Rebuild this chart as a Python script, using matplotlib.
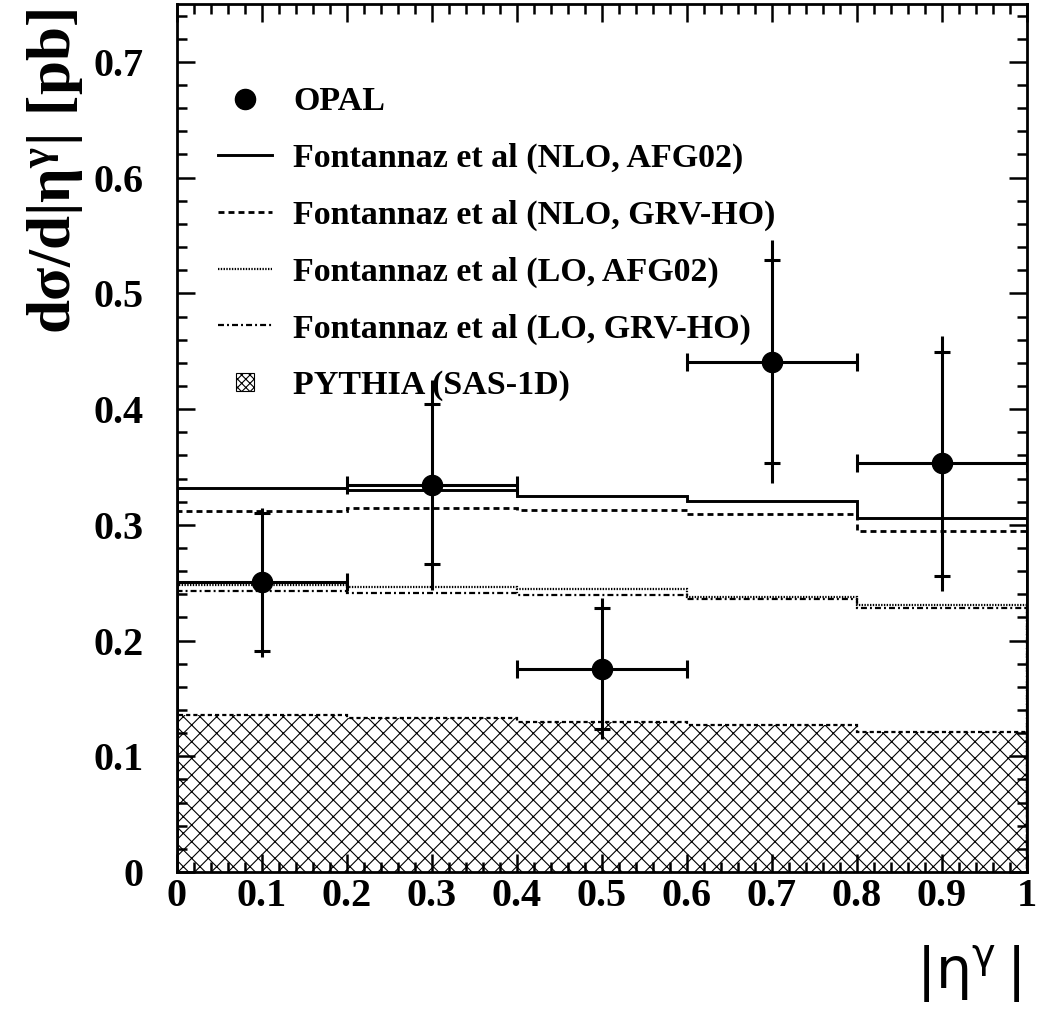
import matplotlib
matplotlib.use('Agg')
import matplotlib.pyplot as plt
import numpy as np
from matplotlib.lines import Line2D
from matplotlib.patches import Rectangle, Patch
from matplotlib.legend_handler import HandlerPatch
from matplotlib.ticker import AutoMinorLocator

plt.rcParams['font.family'] = ['Liberation Serif', 'DejaVu Serif']
plt.rcParams['mathtext.fontset'] = 'custom'
plt.rcParams['mathtext.rm'] = 'Liberation Serif:bold'
plt.rcParams['mathtext.it'] = 'Liberation Serif:bold'
plt.rcParams['mathtext.bf'] = 'Liberation Serif:bold'
plt.rcParams['lines.scale_dashes'] = False
plt.rcParams['hatch.linewidth'] = 0.8

# ---------------- data ----------------
bin_edges = [0.0, 0.2, 0.4, 0.6, 0.8, 1.0]
eta_centers = [0.1, 0.3, 0.5, 0.7, 0.9]
eta_halfwidth = [0.1, 0.1, 0.1, 0.1, 0.1]

opal_xsec = [0.251, 0.3345, 0.1755, 0.441, 0.3535]
opal_stat_lo = [0.191, 0.266, 0.1236, 0.3535, 0.256]
opal_stat_hi = [0.310, 0.404, 0.228, 0.529, 0.449]
opal_tot_lo = [0.186, 0.244, 0.115, 0.336, 0.243]
opal_tot_hi = [0.3146, 0.425, 0.237, 0.546, 0.463]

nlo_afg02 = [0.332, 0.330, 0.325, 0.3207, 0.306]
nlo_grvho = [0.312, 0.3146, 0.313, 0.3094, 0.2947]
lo_afg02 = [0.248, 0.2466, 0.2444, 0.2377, 0.2308]
lo_grvho = [0.243, 0.241, 0.2394, 0.236, 0.228]
pythia_sas1d = [0.1357, 0.133, 0.1297, 0.127, 0.121]

x_ticks = [0, 0.1, 0.2, 0.3, 0.4, 0.5, 0.6, 0.7, 0.8, 0.9, 1.0]
x_tick_labels = ['0', '0.1', '0.2', '0.3', '0.4', '0.5', '0.6', '0.7', '0.8', '0.9', '1']
y_ticks = [0, 0.1, 0.2, 0.3, 0.4, 0.5, 0.6, 0.7]
y_tick_labels = ['0', '0.1', '0.2', '0.3', '0.4', '0.5', '0.6', '0.7']

labels = ['OPAL',
          'Fontannaz et al (NLO, AFG02)',
          'Fontannaz et al (NLO, GRV-HO)',
          'Fontannaz et al (LO, AFG02)',
          'Fontannaz et al (LO, GRV-HO)',
          'PYTHIA (SAS-1D)']

# ---------------- styles ----------------
dash_nlo_grv = (0, (4.3, 2.9))
dash_lo_afg = (0, (1.0, 1.0))
dash_lo_grv = (0, (4.3, 2.2, 1.4, 2.2))
dash_pythia = (0, (3.0, 2.2))

fig = plt.figure(figsize=(10.39, 10.10), dpi=100)
ax = fig.add_axes([0.170, 0.1366, 0.818, 0.8594])

# PYTHIA hatched
ax.stairs(pythia_sas1d, bin_edges, fill=True, facecolor='none', edgecolor='black',
          hatch='xx', linewidth=0, zorder=1)
ax.stairs(pythia_sas1d, bin_edges, color='black', linewidth=1.6, linestyle=dash_pythia, zorder=2)

# Theory curves
ax.stairs(nlo_afg02, bin_edges, color='black', linewidth=2.1, zorder=3)
ax.stairs(nlo_grvho, bin_edges, color='black', linewidth=2.0, linestyle=dash_nlo_grv, zorder=3)
ax.stairs(lo_afg02, bin_edges, color='black', linewidth=1.6, linestyle=dash_lo_afg, zorder=3)
ax.stairs(lo_grvho, bin_edges, color='black', linewidth=1.6, linestyle=dash_lo_grv, zorder=3)

# OPAL data
y = np.array(opal_xsec)
tot_err = [y - np.array(opal_tot_lo), np.array(opal_tot_hi) - y]
stat_err = [y - np.array(opal_stat_lo), np.array(opal_stat_hi) - y]
ax.errorbar(eta_centers, opal_xsec, yerr=tot_err, fmt='none', ecolor='black',
            elinewidth=2.2, capsize=0, zorder=4)
ax.errorbar(eta_centers, opal_xsec, yerr=stat_err, fmt='none', ecolor='black',
            elinewidth=0, capsize=6, capthick=2.2, zorder=4)
ax.errorbar(eta_centers, opal_xsec, xerr=eta_halfwidth, fmt='o', color='black',
            markersize=14.5, elinewidth=2.2, capsize=6.5, capthick=2.2, zorder=5)

ax.set_xlim(0, 1)
ax.set_ylim(0, 0.75)
ax.set_xticks(x_ticks)
ax.set_xticklabels(x_tick_labels, fontweight='bold')
ax.set_yticks(y_ticks)
ax.set_yticklabels(y_tick_labels, fontweight='bold')
ax.xaxis.set_minor_locator(AutoMinorLocator(5))
ax.yaxis.set_minor_locator(AutoMinorLocator(5))
ax.tick_params(which='both', direction='in', top=True, right=True, width=1.8, colors='black')
ax.tick_params(which='major', length=13)
ax.tick_params(which='minor', length=7)
ax.tick_params(axis='x', which='major', labelsize=29, pad=4)
ax.tick_params(axis='y', which='major', labelsize=29, pad=24)
for sp in ax.spines.values():
    sp.set_linewidth(2.0)

ax.set_ylabel(r'$\mathrm{d\sigma/d|\eta^{\gamma}|\ [pb]}$', fontsize=44, loc='top', labelpad=6)
ax.yaxis.label.set_y(0.994)
ax.set_xlabel(r'$|\mathrm{\eta}^{\mathrm{\gamma}}\,|$', fontsize=41, fontweight='normal', loc='right',
              labelpad=21, math_fontfamily='dejavusans')
ax.xaxis.label.set_x(0.993)

# Legend
def small_box(legend, orig_handle, xdescent, ydescent, width, height, fontsize):
    s = 13
    return Rectangle((width / 2 - s / 2 - xdescent, height / 2 - s / 2 - ydescent), s, s)

handles = [
    Line2D([], [], linestyle='none', marker='o', color='black', markersize=14.5),
    Line2D([], [], color='black', linewidth=2.1),
    Line2D([], [], color='black', linewidth=2.0, linestyle=dash_nlo_grv),
    Line2D([], [], color='black', linewidth=1.6, linestyle=dash_lo_afg),
    Line2D([], [], color='black', linewidth=1.6, linestyle=dash_lo_grv),
    Patch(facecolor='white', edgecolor='black', hatch='xxxx', linewidth=0.8),
]
ax.legend(handles, labels, loc='upper left', bbox_to_anchor=(0.0486, 0.905),
          frameon=False, prop={'weight': 'bold', 'size': 24.5}, borderpad=0, borderaxespad=0,
          handlelength=1.59, handletextpad=0.62, labelspacing=0.75,
          handler_map={Patch: HandlerPatch(patch_func=small_box)})

fig.savefig('out.png', dpi=100)
